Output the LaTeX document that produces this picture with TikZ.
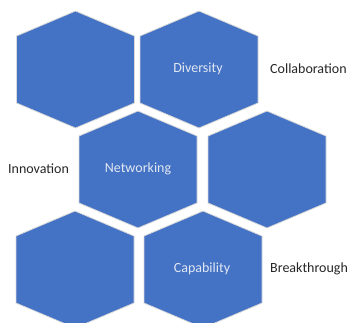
\documentclass[tikz,border=0pt]{standalone}
\usepackage{fontspec}
\setmainfont{Carlito}
\definecolor{hexblue}{HTML}{4472C4}
\definecolor{hexedge}{HTML}{D9D9D9}
\definecolor{hextext}{HTML}{E2E8F3}
\tikzset{
  hexa/.style={fill=hexblue, draw=hexedge, line width=0.8pt, line join=miter},
  hexlabel/.style={text=hextext, font=\fontsize{14}{16}\selectfont, inner sep=0pt},
  sidelabel/.style={text=black!85, font=\fontsize{14}{16}\selectfont, anchor=west, inner sep=0pt}
}
\begin{document}
\begin{tikzpicture}[x=1pt, y=-1pt]
  \useasboundingbox (0,0) rectangle (347,322);

  % hexagon cells
  \draw[hexa, shift={(75.5,69.5)}] (0,-58.5) -- (59,-33.5) -- (59,33.5) -- (0,58.5) -- (-59,33.5) -- (-59,-33.5) -- cycle;
  \draw[hexa, shift={(199,69.5)}] (0,-58.5) -- (59,-33.5) -- (59,33.5) -- (0,58.5) -- (-59,33.5) -- (-59,-33.5) -- cycle;
  \draw[hexa, shift={(138,169.5)}] (0,-58.5) -- (59,-33.5) -- (59,33.5) -- (0,58.5) -- (-59,33.5) -- (-59,-33.5) -- cycle;
  \draw[hexa, shift={(267,169.5)}] (0,-58.5) -- (59,-33.5) -- (59,33.5) -- (0,58.5) -- (-59,33.5) -- (-59,-33.5) -- cycle;
  \draw[hexa, shift={(75,269.5)}] (0,-58.5) -- (59,-33.5) -- (59,33.5) -- (0,58.5) -- (-59,33.5) -- (-59,-33.5) -- cycle;
  \draw[hexa, shift={(203,269.5)}] (0,-58.5) -- (59,-33.5) -- (59,33.5) -- (0,58.5) -- (-59,33.5) -- (-59,-33.5) -- cycle;

  % labels inside the cells
  \node[hexlabel] (diversity) at (198,69) {Diversity};
  \node[hexlabel] (networking) at (138,169) {Networking};
  \node[hexlabel] (capability) at (202,269) {Capability};

  % labels beside the cells
  \node[sidelabel] (collaboration) at (270,69) {Collaboration};
  \node[sidelabel] (innovation) at (8,169) {Innovation};
  \node[sidelabel] (breakthrough) at (270,269) {Breakthrough};
\end{tikzpicture}
\end{document}
